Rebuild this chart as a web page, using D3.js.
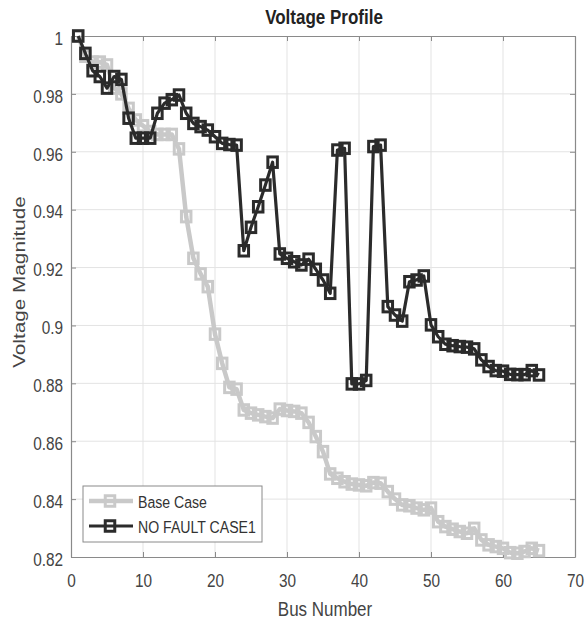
<!DOCTYPE html>
<html><head><meta charset="utf-8">
<script src="https://cdn.jsdelivr.net/npm/d3@7"></script>
<style>body{margin:0;background:#fff}svg{display:block}text{font-family:"Liberation Sans",Arial,sans-serif}</style>
</head><body><div id="chart"></div>
<script>
const buses = d3.range(1, 66);
const baseCase = [1.000,0.993,0.991,0.991,0.990,0.982,0.980,0.975,0.971,0.969,
0.967,0.966,0.966,0.966,0.961,0.9376,0.9232,0.9178,0.9134,0.897,
0.8869,0.8786,0.878,0.8708,0.8697,0.8691,0.8685,0.868,0.8711,0.8706,
0.8703,0.8697,0.8665,0.8616,0.8564,0.8487,0.8472,0.846,0.8452,0.8449,
0.8446,0.8457,0.8455,0.8426,0.840,0.838,0.8377,0.8369,0.8363,0.8369,
0.8322,0.8305,0.8296,0.8288,0.8282,0.8299,0.8259,0.8242,0.8236,0.823,
0.8215,0.8213,0.8219,0.823,0.8222];
const noFault = [1.000,0.994,0.988,0.986,0.982,0.986,0.985,0.9716,0.9647,0.9647,
0.9647,0.9733,0.9768,0.978,0.9796,0.9733,0.9698,0.9687,0.9675,0.9652,
0.9629,0.9625,0.9623,0.9258,0.9339,0.941,0.9485,0.9564,0.9247,0.9232,
0.922,0.9209,0.9229,0.9194,0.9157,0.9111,0.9606,0.9612,0.8798,0.8798,
0.881,0.9618,0.9623,0.9065,0.9036,0.9015,0.9151,0.9157,0.9171,0.9002,
0.8961,0.8935,0.893,0.8927,0.8925,0.8919,0.8881,0.8858,0.8844,0.8842,
0.8831,0.883,0.883,0.8844,0.8829];
const xTicks = [0,10,20,30,40,50,60,70];
const yTicks = [0.82,0.84,0.86,0.88,0.9,0.92,0.94,0.96,0.98,1];
const seriesNames = ["Base Case","NO FAULT CASE1"];
const seriesColors = ["#c9c9c9","#2b2b2b"];

const W = 586, H = 622;
const m = {l:71, r:11, t:36, b:65};
const SX = 0.83; // horizontal squeeze of text (picture is vertically stretched)
const svg = d3.select("#chart").append("svg").attr("width",W).attr("height",H);
const x = d3.scaleLinear().domain([0,70]).range([m.l, W-m.r]);
const y = d3.scaleLinear().domain([0.82,1]).range([H-m.b, m.t]);

// grid
svg.append("g").selectAll("line").data(xTicks.slice(1,-1)).join("line")
  .attr("x1",d=>x(d)).attr("x2",d=>x(d)).attr("y1",m.t).attr("y2",H-m.b)
  .attr("stroke","#e3e3e3").attr("stroke-width",1);
svg.append("g").selectAll("line").data(yTicks.slice(1,-1)).join("line")
  .attr("y1",d=>y(d)).attr("y2",d=>y(d)).attr("x1",m.l).attr("x2",W-m.r)
  .attr("stroke","#e3e3e3").attr("stroke-width",1);

// axes
const fmtY = d => d===1 ? "1" : String(+d.toFixed(2));
const axB = svg.append("g").attr("transform",`translate(0,${H-m.b})`)
  .call(d3.axisBottom(x).tickValues(xTicks).tickSizeInner(-5).tickSizeOuter(0).tickPadding(17));
const axT = svg.append("g").attr("transform",`translate(0,${m.t})`)
  .call(d3.axisTop(x).tickValues(xTicks).tickSizeInner(-5).tickSizeOuter(0).tickFormat(""));
const axL = svg.append("g").attr("transform",`translate(${m.l},0)`)
  .call(d3.axisLeft(y).tickValues(yTicks).tickSizeInner(-5).tickSizeOuter(0).tickPadding(9.6).tickFormat(fmtY));
const axR = svg.append("g").attr("transform",`translate(${W-m.r},0)`)
  .call(d3.axisRight(y).tickValues(yTicks).tickSizeInner(-5).tickSizeOuter(0).tickFormat(""));
[axB,axT,axL,axR].forEach(a=>{
  a.select(".domain").attr("stroke","#8a8a8a").attr("stroke-width",1.2);
  a.selectAll(".tick line").attr("stroke","#8a8a8a");
  a.selectAll(".tick text").attr("fill","#444").attr("font-size",18.5)
    .attr("font-family","'Liberation Sans',Arial,sans-serif")
    .attr("transform",`scale(${SX},1)`);
});
axL.selectAll(".tick text").attr("dy","0.45em");

// series
const series = [baseCase, noFault];
const widths = [4.5, 3.2];
series.forEach((vals,i)=>{
  const pts = buses.map((b,j)=>[b, vals[j]]);
  svg.append("path").datum(pts)
    .attr("fill","none").attr("stroke",seriesColors[i]).attr("stroke-width",widths[i])
    .attr("stroke-linejoin","round")
    .attr("d", d3.line().x(d=>x(d[0])).y(d=>y(d[1])));
  svg.append("g").selectAll("rect").data(pts).join("rect")
    .attr("x",d=>x(d[0])-4.75).attr("y",d=>y(d[1])-5.25)
    .attr("width",9.5).attr("height",10.5)
    .attr("fill","none").attr("stroke",seriesColors[i]).attr("stroke-width",3);
});

// title and labels
svg.append("text").attr("transform",`translate(324,24) scale(0.85,1)`).attr("text-anchor","middle")
  .attr("font-size",20).attr("font-weight","bold").attr("fill","#222").text("Voltage Profile");
svg.append("text").attr("transform",`translate(325,616) scale(0.85,1)`).attr("text-anchor","middle")
  .attr("font-size",20).attr("fill","#444").text("Bus Number");
svg.append("text").attr("transform","translate(25,282) rotate(-90) scale(1.22,1)").attr("text-anchor","middle")
  .attr("font-size",17).attr("fill","#444").text("Voltage Magnitude");

// legend
const lg = svg.append("g");
lg.append("rect").attr("x",83).attr("y",486).attr("width",179).attr("height",56)
  .attr("fill","#fff").attr("stroke","#8a8a8a").attr("stroke-width",1);
seriesNames.forEach((n,i)=>{
  const yy = 501 + i*25;
  lg.append("line").attr("x1",89).attr("x2",133).attr("y1",yy).attr("y2",yy)
    .attr("stroke",seriesColors[i]).attr("stroke-width",widths[i]);
  lg.append("rect").attr("x",110-4.75).attr("y",yy-5.25).attr("width",9.5).attr("height",10.5)
    .attr("fill","none").attr("stroke",seriesColors[i]).attr("stroke-width",3);
  lg.append("text").attr("transform",`translate(138,${yy+7}) scale(0.83,1)`)
    .attr("font-size",17).attr("fill","#333").text(n);
});
</script></body></html>
